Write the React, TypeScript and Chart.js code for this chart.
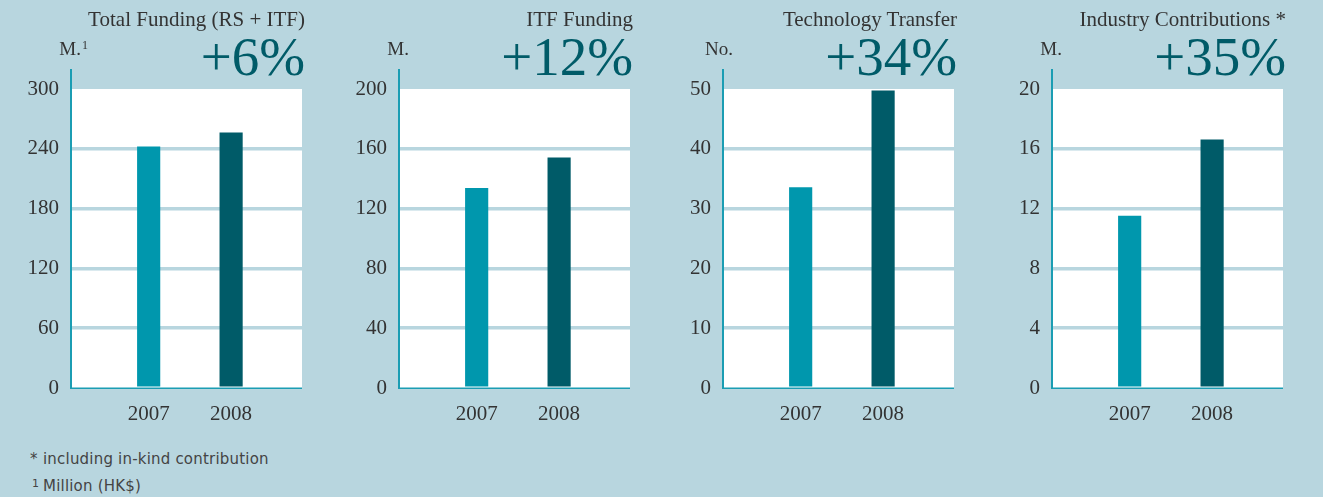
import React, { useEffect, useRef } from "react";
import { Chart, registerables } from "chart.js";

Chart.register(...registerables);

// ---------- data ----------
const categories = [2007, 2008];
const panelTitles = ["Total Funding (RS + ITF)", "ITF Funding", "Technology Transfer", "Industry Contributions *"];
const changeLabels = ["+6%", "+12%", "+34%", "+35%"];
const unitLabels = ["M.", "M.", "No.", "M."];
const unitSups = ["1", "", "", ""];
const totalFunding = [242, 256];
const itfFunding = [133.5, 154];
const techTransfer = [33.5, 49.7];
const industryContributions = [11.5, 16.6];
const axisMax = [300, 200, 50, 20];
const tickSteps = [60, 40, 10, 4];
const footnotes = ["including in-kind contribution", "Million (HK$)"];
const footnoteMarks = ["*", "1"];

const seriesList = [totalFunding, itfFunding, techTransfer, industryContributions];

// ---------- styles ----------
const BG = "#b8d6df";
const GRID = "#b8d6df";
const AXIS = "#1b9db3";
const BAR_2007 = "#0097ad";
const BAR_2008 = "#005b68";
const TEXT = "#333333";
const BIG = "#005b68";
const SERIF = "'Liberation Serif', 'Times New Roman', serif";
const SANS = "'DejaVu Sans', 'Liberation Sans', Arial, sans-serif";

const CANVAS_W = 330;
const CANVAS_H = 440;
const canvasLefts = [0, 328, 652, 981];
const Y_AXIS_W = 72;
const PLOT_W = 230;

const decoPlugin = {
  id: "panelDeco",
  beforeDraw(chart: any) {
    const { ctx, chartArea: a } = chart;
    ctx.save();
    ctx.fillStyle = "#ffffff";
    ctx.fillRect(a.left, a.top, a.right - a.left, a.bottom - a.top);
    ctx.restore();
  },
  afterDraw(chart: any) {
    const { ctx, chartArea: a } = chart;
    ctx.save();
    ctx.strokeStyle = AXIS;
    ctx.lineWidth = 2;
    ctx.beginPath();
    ctx.moveTo(a.left - 1, a.top - 20);
    ctx.lineTo(a.left - 1, a.bottom + 1);
    ctx.stroke();
    ctx.lineWidth = 1.6;
    ctx.beginPath();
    ctx.moveTo(a.left - 2, a.bottom + 0.2);
    ctx.lineTo(a.right, a.bottom + 0.2);
    ctx.stroke();
    ctx.restore();
  },
};

function Panel({ index }: { index: number }) {
  const ref = useRef<HTMLCanvasElement | null>(null);
  useEffect(() => {
    if (!ref.current) return;
    const max = axisMax[index];
    const values = seriesList[index];
    const chart = new Chart(ref.current, {
      type: "bar",
      data: {
        datasets: [
          {
            data: categories.map((c, i) => ({ x: c, y: values[i] })),
            backgroundColor: [BAR_2007, BAR_2008],
            borderWidth: 0,
            barThickness: 22.5,
          } as any,
        ],
      },
      options: {
        animation: false,
        responsive: false,
        maintainAspectRatio: false,
        devicePixelRatio: 1,
        layout: { padding: { top: 89, right: CANVAS_W - Y_AXIS_W - PLOT_W, left: 0, bottom: 0 } },
        plugins: { legend: { display: false }, tooltip: { enabled: false }, title: { display: false } },
        scales: {
          x: {
            type: "linear",
            offset: false,
            bounds: "data",
            min: 2006.07,
            max: 2008.86,
            grid: { display: false, offset: false },
            border: { display: false },
            afterBuildTicks: (scale: any) => {
              scale.ticks = categories.map((v) => ({ value: v }));
            },
            afterFit: (scale: any) => {
              scale.height = CANVAS_H - 388;
            },
            ticks: {
              color: TEXT,
              font: { family: SERIF, size: 21 },
              padding: 6,
              maxRotation: 0,
              autoSkip: false,
              callback: (v: any) => String(v),
            },
          },
          y: {
            min: 0,
            max: max,
            grid: {
              color: (ctx: any) =>
                ctx.tick && (ctx.tick.value === 0 || ctx.tick.value === max) ? "rgba(0,0,0,0)" : GRID,
              lineWidth: 3.5,
              drawTicks: false,
            },
            border: { display: false },
            afterFit: (scale: any) => {
              scale.width = Y_AXIS_W;
            },
            ticks: {
              stepSize: tickSteps[index],
              color: TEXT,
              font: { family: SERIF, size: 21 },
              padding: 13,
              callback: (v: any) => String(v),
            },
          },
        },
      },
      plugins: [decoPlugin],
    } as any);
    return () => chart.destroy();
  }, [index]);

  const left = canvasLefts[index];
  const plotRight = left + Y_AXIS_W + PLOT_W;
  const axisX = left + Y_AXIS_W - 1;
  return (
    <>
      <canvas
        ref={ref}
        width={CANVAS_W}
        height={CANVAS_H}
        style={{ position: "absolute", left, top: 0, width: CANVAS_W, height: CANVAS_H }}
      />
      <div
        style={{
          position: "absolute",
          right: 1323 - plotRight - 3,
          top: 9.4,
          fontFamily: SERIF,
          fontSize: 21,
          lineHeight: "21px",
          color: TEXT,
          whiteSpace: "nowrap",
        }}
      >
        {panelTitles[index]}
      </div>
      <div
        style={{
          position: "absolute",
          right: 1323 - plotRight - 3,
          top: 29,
          fontFamily: SERIF,
          fontSize: 55,
          lineHeight: "55px",
          color: BIG,
          whiteSpace: "nowrap",
        }}
      >
        {changeLabels[index]}
      </div>
      <div
        style={{
          position: "absolute",
          right: 1323 - axisX - 10,
          top: 39,
          fontFamily: SERIF,
          fontSize: 19,
          lineHeight: "19px",
          color: TEXT,
          whiteSpace: "nowrap",
        }}
      >
        {unitLabels[index]}
        {unitSups[index] ? (
          <span style={{ position: "absolute", left: "100%", top: -3, fontSize: 12, marginLeft: 1 }}>
            {unitSups[index]}
          </span>
        ) : null}
      </div>
    </>
  );
}

export default function App() {
  return (
    <div
      style={{
        position: "absolute",
        left: 0,
        top: 0,
        width: 1323,
        height: 497,
        background: BG,
        overflow: "hidden",
      }}
    >
      {[0, 1, 2, 3].map((i) => (
        <Panel key={i} index={i} />
      ))}
      {footnotes.map((f, i) => (
        <div
          key={i}
          style={{
            position: "absolute",
            left: 30,
            top: i === 0 ? 452 : 479,
            fontFamily: SANS,
            fontSize: 15,
            lineHeight: "15px",
            color: "#444",
            whiteSpace: "nowrap",
            letterSpacing: 0.2,
          }}
        >
          <span
            style={{
              display: "inline-block",
              width: 13,
              fontSize: i === 0 ? 15 : 11,
              position: "relative",
              top: i === 0 ? 0 : -4,
              left: i === 0 ? 0 : 2,
            }}
          >
            {footnoteMarks[i]}
          </span>
          {f}
        </div>
      ))}
    </div>
  );
}
